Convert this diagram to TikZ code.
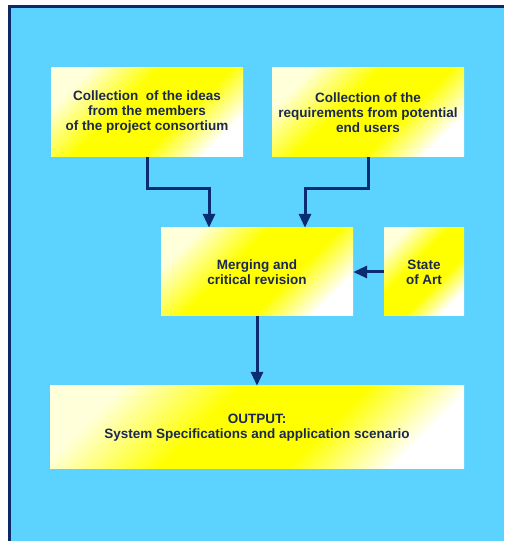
\documentclass[tikz,border=0pt]{standalone}
\usepackage{fontspec}
\setmainfont{Liberation Sans}
\usetikzlibrary{arrows.meta}
\definecolor{skyblue}{HTML}{5CD3FF}
\definecolor{navyframe}{HTML}{0C2A66}
\definecolor{navyarrow}{HTML}{0B2C70}
\definecolor{navytext}{HTML}{1B2851}
\pgfdeclareverticalshading{glow}{100bp}{color(0bp)=(white); color(25bp)=(white);
  color(40bp)=(yellow); color(58bp)=(yellow); color(75bp)=(white!85!yellow); color(100bp)=(white!85!yellow)}
\tikzset{
  stagebox/.style={rectangle, inner sep=0pt, align=center, text=navytext, overlay,
    font=\fontsize{13.5}{15}\selectfont\bfseries,
    shade, shading=glow, shading angle=45},
  flow/.style={->, line width=3pt, draw=navyarrow, >={Triangle[length=14pt,width=12pt]}}
}
\begin{document}
\begin{tikzpicture}[x=1pt,y=1pt]
\path[use as bounding box] (0,0) rectangle (504,541);
\fill[white] (0,0) rectangle (504,541);
\fill[skyblue] (8,0) rectangle (504,536);
\draw[navyframe, line width=3pt] (9.5,0) -- (9.5,534.5) -- (504,534.5); % frame

\node[stagebox, minimum width=192pt, minimum height=89pt] (ideas) at (147,428.5)
  {Collection\ \ of the ideas\\from the members\\of the project consortium};
\node[stagebox, minimum width=192pt, minimum height=89pt] (needs) at (368,428.5)
  {Collection of the\\requirements from potential\\end users};
\node[stagebox, minimum width=192pt, minimum height=88pt] (merge) at (257,269)
  {Merging and\\critical revision};
\node[stagebox, minimum width=80pt, minimum height=88pt] (state) at (424,269)
  {State\\of Art};
\node[stagebox, minimum width=414pt, minimum height=83pt] (output) at (257,113.5)
  {OUTPUT:\\System Specifications and application scenario};

\draw[flow] (ideas.south) -- ++(0,-31) -| ([xshift=-48pt]merge.north);
\draw[flow] (needs.south) -- ++(0,-31) -| ([xshift=48pt]merge.north);
\draw[flow] (state.west) -- (merge.east);
\draw[flow] (merge.south) -- (output.north);
\end{tikzpicture}
\end{document}
